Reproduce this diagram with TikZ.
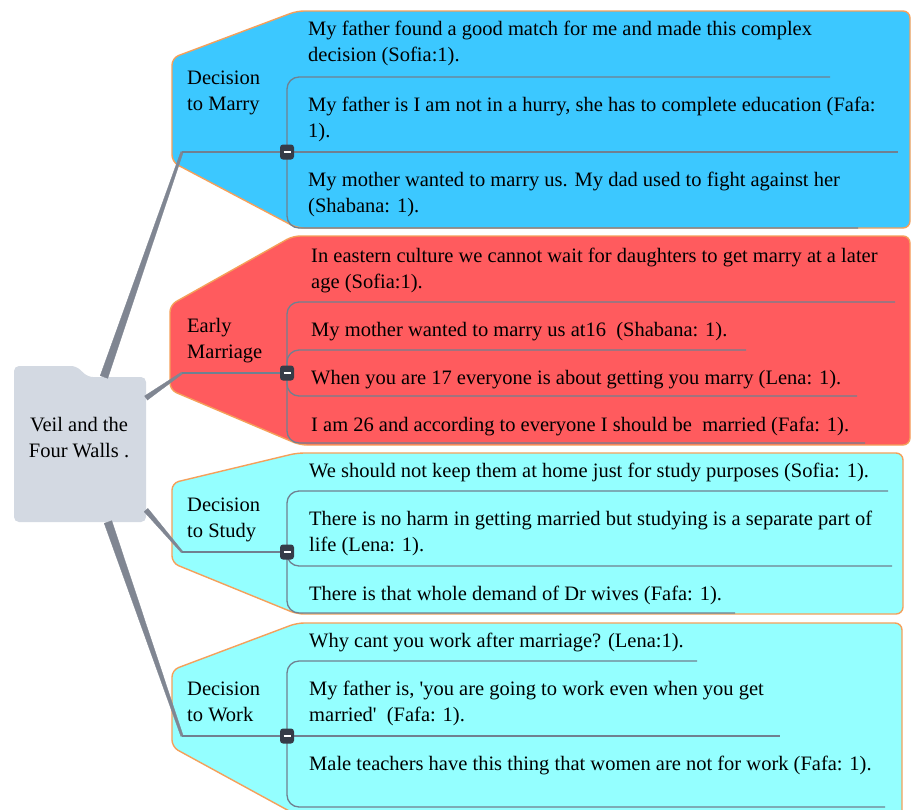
\documentclass[tikz,border=0pt]{standalone}
\usepackage{fontspec}
\setmainfont{Liberation Serif}
\usetikzlibrary{calc}

\definecolor{marryfill}{RGB}{60,200,255}
\definecolor{earlyfill}{RGB}{255,91,94}
\definecolor{studyfill}{RGB}{148,255,255}
\definecolor{edgeorange}{RGB}{245,160,90}
\definecolor{rootfill}{RGB}{211,217,226}
\definecolor{trunkgrey}{RGB}{128,134,146}
\definecolor{treegrey}{RGB}{112,128,144}
\definecolor{knobdark}{RGB}{54,60,72}

% two lines stacked, baseline on the first one
\newcommand{\twol}[2]{\vtop{\baselineskip=26pt\hbox{#1}\hbox{#2}}}
% two centred lines of zero width
\newcommand{\twoc}[2]{\vtop{\baselineskip=26pt\hbox to 0pt{\hss#1\hss}\hbox to 0pt{\hss#2\hss}}}

\tikzset{
  x=1pt, y=-1pt,
  branchshape/.style={draw=edgeorange, line width=1.4pt, rounded corners=7pt},
  tree/.style={draw=treegrey, line width=1.3pt, rounded corners=12pt},
  trunk/.style={fill=trunkgrey, draw=trunkgrey, line width=0.3pt},
  txt/.style={inner sep=0pt, anchor=base west, text=black,
              font=\fontsize{20.5}{26}\selectfont},
  knob/.style={rectangle, fill=knobdark, rounded corners=3pt,
               minimum width=14pt, minimum height=15pt, inner sep=0pt,
               path picture={\draw[white, line width=2pt]
                 ([xshift=-3.5pt]path picture bounding box.center) --
                 ([xshift=3.5pt]path picture bounding box.center);}},
}

\begin{document}
\begin{tikzpicture}
\useasboundingbox (0,0) rectangle (912,809);
\fill[white] (0,0) rectangle (912,809);

% ---- branch panels ----
\path[branchshape, fill=marryfill]
  (297,11) -- (910,11) -- (910,228) -- (297,228) -- (172,162) -- (172,58) -- cycle;
\path[branchshape, fill=earlyfill]
  (293,236) -- (910,236) -- (910,445) -- (300,445) -- (170,390) -- (170,305) -- cycle;
\path[branchshape, fill=studyfill]
  (297,453) -- (903,453) -- (903,614) -- (297,614) -- (172,563) -- (172,483) -- cycle;
\path[branchshape, fill=studyfill]
  (297,623) -- (902,623) -- (902,818) -- (302,818) -- (172,747) -- (172,670) -- cycle;

% ---- central topic (folder shape) ----
\fill[rootfill, rounded corners=5pt]
  (14,522) -- (14,366) -- (76,366) -- (88,377) -- (146,377) -- (146,522) -- cycle;
\node[txt, anchor=base] (root) at (79,431) {\twoc{Veil and the}{Four Walls .}};

% attachment points on the central topic
\coordinate (rm) at (104,377);
\coordinate (re) at (146,398);
\coordinate (rs) at (146,510);
\coordinate (rw) at (108,522);

% attachment points on the branches
\coordinate (bm) at (182,152);
\coordinate (be) at (182,373);
\coordinate (bs) at (182,552);
\coordinate (bw) at (182,736);

% ---- tapered trunks ----
\fill[trunk] ($(rm)!4pt!90:(bm)$) -- ($(bm)!1.2pt!-90:(rm)$) -- ($(bm)!1.2pt!90:(rm)$) -- ($(rm)!4pt!-90:(bm)$) -- cycle;
\fill[trunk] ($(re)!2.5pt!90:(be)$) -- ($(be)!1pt!-90:(re)$) -- ($(be)!1pt!90:(re)$) -- ($(re)!2.5pt!-90:(be)$) -- cycle;
\fill[trunk] ($(rs)!2.5pt!90:(bs)$) -- ($(bs)!1pt!-90:(rs)$) -- ($(bs)!1pt!90:(rs)$) -- ($(rs)!2.5pt!-90:(bs)$) -- cycle;
\fill[trunk] ($(rw)!4pt!90:(bw)$) -- ($(bw)!1.2pt!-90:(rw)$) -- ($(bw)!1.2pt!90:(rw)$) -- ($(rw)!4pt!-90:(bw)$) -- cycle;

% ---- collapse knobs ----
\coordinate (km) at (287,152);
\coordinate (ke) at (287,373);
\coordinate (ks) at (287,552);
\coordinate (kw) at (287,736);

% underline ends of the sub-topics
\coordinate (m1u) at (830,77);
\coordinate (m2u) at (898,152);
\coordinate (m3u) at (858,228);
\coordinate (e1u) at (895,302);
\coordinate (e2u) at (746,350);
\coordinate (e3u) at (857,396);
\coordinate (e4u) at (865,443);
\coordinate (s1u) at (888,491);
\coordinate (s2u) at (892,566);
\coordinate (s3u) at (735,613);
\coordinate (w1u) at (697,661);
\coordinate (w2u) at (780,736);
\coordinate (w3u) at (885,807);

% ---- branch lines ----
\draw[tree] (bm) -- (km);
\draw[tree] (be) -- (ke);
\draw[tree] (bs) -- (ks);
\draw[tree] (bw) -- (kw);

\draw[tree] (km) |- (m1u);
\draw[tree] (km) -- (m2u);
\draw[tree] (km) |- (m3u);

\draw[tree] (ke) |- (e1u);
\draw[tree] (ke) |- (e2u);
\draw[tree] (ke) |- (e3u);
\draw[tree] (ke) |- (e4u);

\draw[tree] (ks) |- (s1u);
\draw[tree] (ks) |- (s2u);
\draw[tree] (ks) |- (s3u);

\draw[tree] (kw) |- (w1u);
\draw[tree] (kw) -- (w2u);
\draw[tree] (kw) |- (w3u);

\node[knob] (kmk) at (km) {};
\node[knob] (kek) at (ke) {};
\node[knob] (ksk) at (ks) {};
\node[knob] (kwk) at (kw) {};

% ---- branch titles ----
\node[txt] (marry) at (187,84) {\twol{Decision}{to Marry}};
\node[txt] (early) at (187,332) {\twol{Early}{Marriage}};
\node[txt] (study) at (187,511) {\twol{Decision}{to Study}};
\node[txt] (work)  at (187,695) {\twol{Decision}{to Work}};

% ---- sub-topics ----
\node[txt] (m1) at (308,35) {\twol{My father found a good match for me and made this complex}{decision (Sofia:1).}};
\node[txt] (m2) at (308,111) {\twol{My father is I am not in a hurry, she has to complete education (Fafa:}{1).}};
\node[txt] (m3) at (308,186) {\twol{My mother wanted to marry us. My dad used to fight against her}{(Shabana: 1).}};

\node[txt] (e1) at (311,262) {\twol{In eastern culture we cannot wait for daughters to get marry at a later}{age (Sofia:1).}};
\node[txt] (e2) at (311,336) {My mother wanted to marry us at16\ \ (Shabana: 1).};
\node[txt] (e3) at (311,384) {When you are 17 everyone is about getting you marry (Lena: 1).};
\node[txt] (e4) at (311,431) {I am 26 and according to everyone I should be\ \ married (Fafa: 1).};

\node[txt] (s1) at (309,477) {We should not keep them at home just for study purposes (Sofia: 1).};
\node[txt] (s2) at (309,525) {\twol{There is no harm in getting married but studying is a separate part of}{life (Lena: 1).}};
\node[txt] (s3) at (309,600) {There is that whole demand of Dr wives (Fafa: 1).};

\node[txt] (w1) at (309,647) {Why cant you work after marriage? (Lena:1).};
\node[txt] (w2) at (309,695) {\twol{My father is, \textquotesingle you are going to work even when you get}{married\textquotesingle\ \ (Fafa: 1).}};
\node[txt] (w3) at (309,770) {Male teachers have this thing that women are not for work (Fafa: 1).};
\end{tikzpicture}
\end{document}
